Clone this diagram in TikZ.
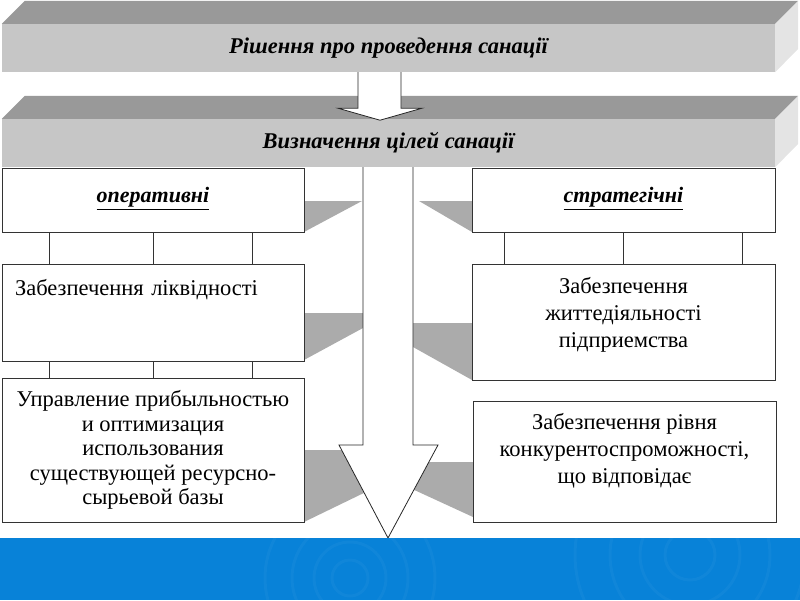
\documentclass[tikz,border=0pt]{standalone}
\usepackage{fontspec}
\setmainfont{Liberation Serif}
\usetikzlibrary{calc}
\definecolor{topgray}{HTML}{999999}
\definecolor{frontgray}{HTML}{C6C6C6}
\definecolor{sidegray}{HTML}{E4E4E4}
\definecolor{bandblue}{HTML}{0882D8}
\begin{document}
\begin{tikzpicture}[x=1pt,y=-1pt,
  front/.style={fill=frontgray,minimum width=773pt,minimum height=48pt,inner sep=0pt,
    font=\fontsize{22.5}{26}\selectfont\bfseries\itshape},
  box/.style={draw=black!80,fill=white,line width=1pt,inner sep=0pt,align=center,
    minimum width=302pt,font=\fontsize{22.5}{27}\selectfont},
  head/.style={box,minimum height=64pt,text depth=10pt,font=\fontsize{22}{26}\selectfont\bfseries\itshape},
  shade/.style={fill=black!33},
  blockarrow/.style={draw=black!85,fill=white,line width=0.8pt,line join=miter}]
\useasboundingbox (0,0) rectangle (800,600);
\node[front] (dec) at (388.5,48) {Рішення про проведення санації};
\fill[topgray] (dec.north west) -- ++(23,-23) -- ([shift={(23,-23)}]dec.north east) -- (dec.north east) -- cycle;
\fill[sidegray] (dec.north east) -- ++(23,-23) -- ++(0,48) -- (dec.south east) -- cycle;
\node[front] (goal) at (388.5,143) {Визначення цілей санації};
\fill[topgray] (goal.north west) -- ++(23,-23) -- ([shift={(23,-23)}]goal.north east) -- (goal.north east) -- cycle;
\fill[sidegray] (goal.north east) -- ++(23,-23) -- ++(0,48) -- (goal.south east) -- cycle;
\coordinate (t) at (dec.south -| 380,0);
\draw[blockarrow] (t) ++(-22,0) -- ++(0,36) -- ++(-20,0) -- ++(42,12) -- ++(42,-12) -- ++(-21,0) -- ++(0,-36);
\fill[shade] (304,201) -- (362,201) -- (304,232) -- cycle;
\fill[shade] (419,201) -- (472,201) -- (472,232) -- cycle;
\fill[shade] (304,313) -- (363,313) -- (363,328) -- (304,360) -- cycle;
\fill[shade] (413,323) -- (472,323) -- (472,380) -- (413,347) -- cycle;
\fill[shade] (304,450) -- (350,450) -- (370,490) -- (304,522) -- cycle;
\fill[shade] (410,462) -- (473,462) -- (473,517) -- (410,488) -- cycle;
\node[head] (op) at (153,200) {\underline{оперативні}};
\node[box,minimum height=97pt,text width=276pt,align=left,text depth=50pt] (liq) at (153,312.5) {Забезпечення ліквідності};
\node[box,minimum height=144pt,font=\fontsize{22.5}{24.5}\selectfont] (prib) at (153,450) {Управление прибыльностью\\и оптимизация\\использования\\существующей ресурсно-\\сырьевой базы};
\node[head,minimum width=303pt] (str) at (623.5,200) {\underline{стратегічні}};
\node[box,minimum width=303pt,minimum height=116pt,text depth=19pt] (life) at (623.5,322) {Забезпечення\\життедіяльності\\підприемства};
\node[box,minimum width=303pt,minimum height=121pt,text depth=27pt] (comp) at (624.5,461.5) {Забезпечення рівня\\конкурентоспроможності,\\що відповідає};
\foreach \f in {0.16,0.5,0.83} {
  \draw[black!80,line width=1pt] ($(op.south west)!\f!(op.south east)$) -- ($(liq.north west)!\f!(liq.north east)$);
  \draw[black!80,line width=1pt] ($(liq.south west)!\f!(liq.south east)$) -- ($(prib.north west)!\f!(prib.north east)$);
}
\foreach \f in {0.11,0.5,0.89}
  \draw[black!80,line width=1pt] ($(str.south west)!\f!(str.south east)$) -- ($(life.north west)!\f!(life.north east)$);
\draw[blockarrow] (goal.south -| 363,0) -- (363,445) -- (339,445) -- (388,538) -- (438,445) -- (413,445) -- (goal.south -| 413,0);
\fill[bandblue] (0,538) rectangle (800,600);
\begin{scope}
\clip (0,538) rectangle (800,600);
\foreach \r in {18,36,58,85}
  \draw[white,opacity=0.035,line width=3pt] (350,578) circle (\r);
\foreach \r in {25,50,80,115}
  \draw[white,opacity=0.035,line width=3pt] (690,555) circle (\r);
\end{scope}
\end{tikzpicture}
\end{document}
